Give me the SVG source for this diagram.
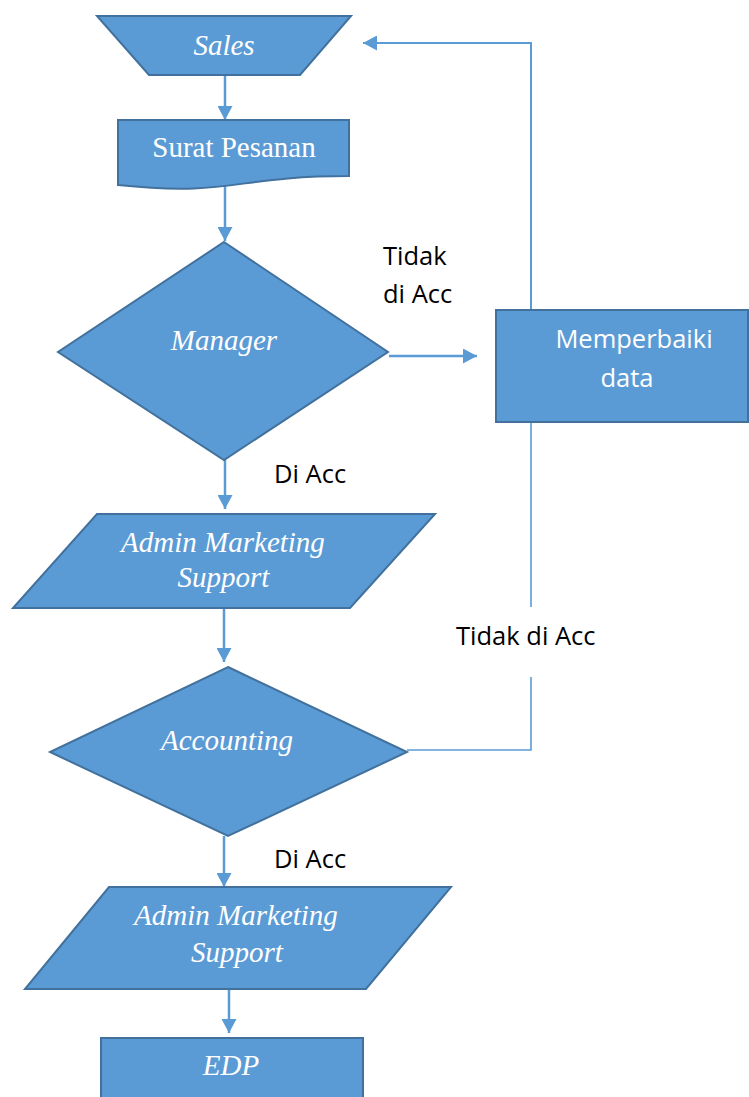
<svg xmlns="http://www.w3.org/2000/svg" width="749" height="1097" viewBox="0 0 749 1097">
<style>
.shape{fill:#5B9BD5;stroke:#41719C;stroke-width:2}
.conn{fill:none;stroke:#5B9BD5;stroke-width:2.5}
.thin{fill:none;stroke:#5B9BD5;stroke-width:1.6}
.ser{font-family:"Liberation Serif","Times New Roman",serif;font-size:29px;fill:#FFFFFF;text-anchor:middle}
.it{font-style:italic}
.san{font-family:"Open Sans","Liberation Sans",sans-serif;font-size:25.5px}
.lbl{fill:#000000}
.wt{fill:#FFFFFF;text-anchor:middle}
</style>
<defs>
<marker id="ah" markerUnits="userSpaceOnUse" markerWidth="15" markerHeight="15" refX="14" refY="7.5" orient="auto">
<path d="M0,0 L14,7.5 L0,15 Z" fill="#5B9BD5"/>
</marker>
</defs>
<rect width="749" height="1097" fill="#FFFFFF"/>
<g id="connectors">
<path class="conn" d="M225,75 V120" marker-end="url(#ah)"/>
<path class="conn" d="M225,186 V241" marker-end="url(#ah)"/>
<path class="conn" d="M389,356 H477" marker-end="url(#ah)"/>
<path class="conn" style="stroke-width:2" d="M531,310 V43 H363" marker-end="url(#ah)"/>
<path class="conn" d="M225,460 V509" marker-end="url(#ah)"/>
<path class="conn" d="M224,608 V662" marker-end="url(#ah)"/>
<path class="thin" d="M407,750 H531 V677"/>
<path class="thin" d="M531,607 V422"/>
<path class="conn" d="M224,836 V887" marker-end="url(#ah)"/>
<path class="conn" d="M229,989 V1033" marker-end="url(#ah)"/>
</g>
<g id="sales">
<polygon class="shape" points="97,16 351,16 300,75 149,75"/>
<text class="ser it" x="224" y="55">Sales</text>
</g>
<g id="surat-pesanan">
<path class="shape" d="M118,120 H349 V176 C233,176 233,197 118,185 Z"/>
<text class="ser" x="234" y="157">Surat Pesanan</text>
</g>
<g id="manager">
<polygon class="shape" points="224,242 388,352 224,460 58,352"/>
<text class="ser it" x="224" y="350">Manager</text>
</g>
<g id="memperbaiki-data">
<rect class="shape" x="496" y="310" width="252" height="112"/>
<text class="san wt" x="634" y="348">Memperbaiki</text>
<text class="san wt" x="627" y="387">data</text>
</g>
<g id="admin-marketing-1">
<polygon class="shape" points="97,514 435,514 350,608 13,608"/>
<text class="ser it" x="223" y="552">Admin Marketing</text>
<text class="ser it" x="223.5" y="587">Support</text>
</g>
<g id="accounting">
<polygon class="shape" points="228,667 407,752 228,836 50,752"/>
<text class="ser it" x="227" y="750">Accounting</text>
</g>
<g id="admin-marketing-2">
<polygon class="shape" points="109,887 451,887 366,989 25,989"/>
<text class="ser it" x="236" y="925">Admin Marketing</text>
<text class="ser it" x="237" y="962">Support</text>
</g>
<g id="edp">
<rect class="shape" x="101" y="1038" width="262" height="80"/>
<text class="ser it" x="231" y="1075">EDP</text>
</g>
<g id="labels">
<text class="san lbl" x="383" y="265">Tidak</text>
<text class="san lbl" x="383" y="303">di Acc</text>
<text class="san lbl" x="274" y="483">Di Acc</text>
<text class="san lbl" x="456" y="645">Tidak di Acc</text>
<text class="san lbl" x="274" y="868">Di Acc</text>
</g>
</svg>
